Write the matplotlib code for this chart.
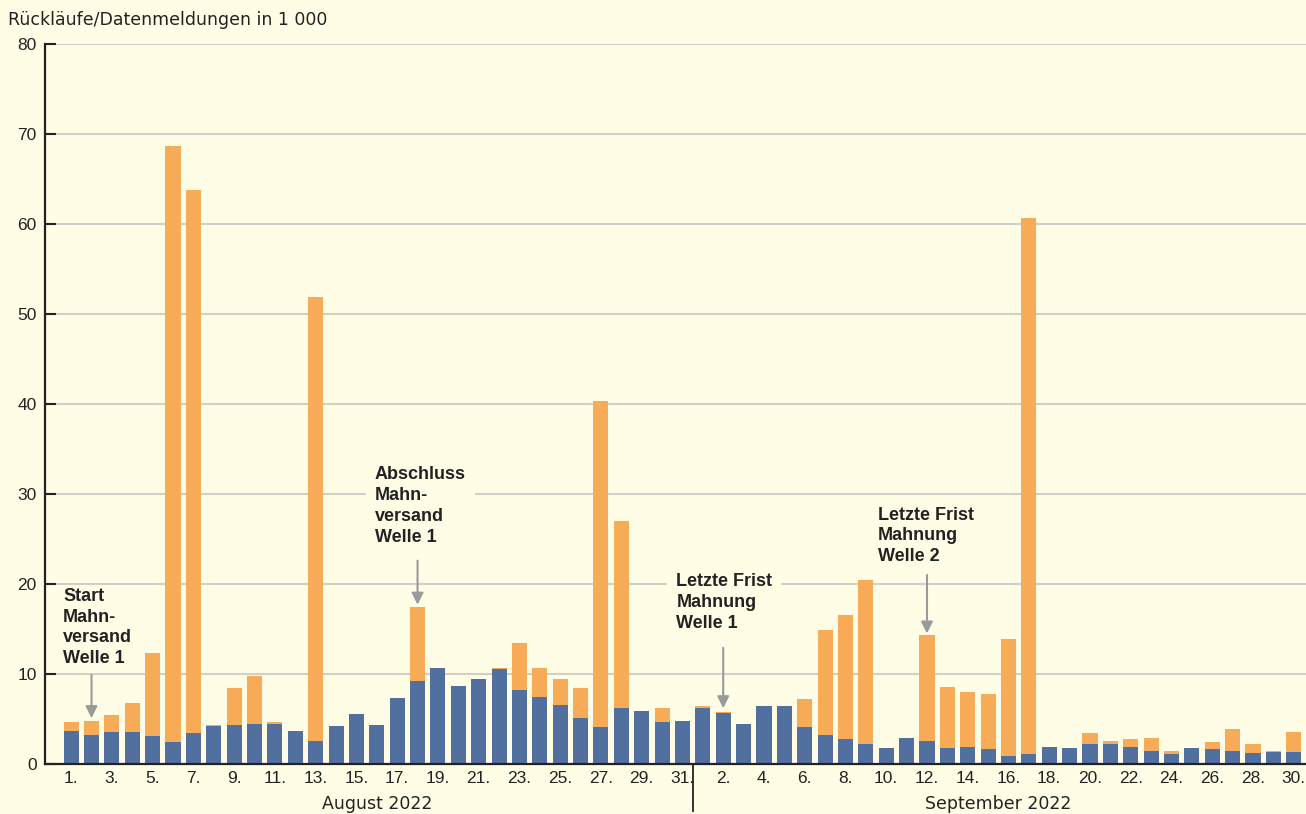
import numpy as np
import matplotlib.pyplot as plt

plt.rcParams['font.family'] = ['Liberation Sans', 'DejaVu Sans']

# days: August 1-31, September 1-30
aug_days = list(range(1, 32))
sep_days = list(range(1, 31))

# blue part (bottom) in 1 000
aug_blue = [3.7, 3.2, 3.6, 3.6, 3.1, 2.5, 3.5, 4.2, 4.3, 4.5, 4.5, 3.7, 2.6, 4.2, 5.6, 4.3,
            7.3, 9.2, 10.7, 8.7, 9.4, 10.6, 8.2, 7.4, 6.6, 5.1, 4.1, 6.2, 5.9, 4.7, 4.8]
sep_blue = [6.2, 5.7, 4.4, 6.5, 6.4, 4.1, 3.2, 2.8, 2.2, 1.8, 2.9, 2.6, 1.8, 1.9, 1.7,
            0.9, 1.1, 1.9, 1.8, 2.2, 2.2, 1.9, 1.4, 1.1, 1.8, 1.7, 1.4, 1.2, 1.3, 1.3]
# orange part (stacked on top) in 1 000
aug_orange = [1.0, 1.6, 1.9, 3.2, 9.2, 66.2, 60.3, 0.1, 4.2, 5.3, 0.2, 0.0, 49.3, 0.0, 0.0, 0.0,
              0.0, 8.2, 0.0, 0.0, 0.0, 0.1, 5.3, 3.3, 2.9, 3.3, 36.2, 20.8, 0.0, 1.5, 0.0]
sep_orange = [0.3, 0.1, 0.0, 0.0, 0.0, 3.1, 11.7, 13.8, 18.2, 0.0, 0.0, 11.7, 6.8, 6.1, 6.1,
              13.0, 59.6, 0.0, 0.0, 1.3, 0.4, 0.9, 1.5, 0.4, 0.0, 0.7, 2.5, 1.0, 0.1, 2.3]

blue = np.array(aug_blue + sep_blue)
orange = np.array(aug_orange + sep_orange)
x = np.arange(len(blue))

tick_pos = [i for i, d in enumerate(aug_days) if d % 2 == 1] + \
           [31 + i for i, d in enumerate(sep_days) if d % 2 == 0]
tick_lab = [f"{d}." for d in aug_days if d % 2 == 1] + [f"{d}." for d in sep_days if d % 2 == 0]

bg = '#fffde6'
c_blue = '#52709f'
c_orange = '#f9ac57'
c_text = '#222222'

fig = plt.figure(figsize=(13.06, 8.14), dpi=100, facecolor=bg)
ax = fig.add_axes([0.0345, 0.0614, 0.9655, 0.8846], facecolor=bg)

ax.bar(x, blue, 0.74, color=c_blue, zorder=2)
ax.bar(x, orange, 0.74, bottom=blue, color=c_orange, zorder=2)

ax.set_xlim(-1.28, 60.6)
ax.set_ylim(0, 80)
ax.set_yticks(range(0, 81, 10))
ax.yaxis.grid(True, color='#d2d0c6', lw=1.5, zorder=0)
ax.set_axisbelow(True)
ax.tick_params(axis='y', direction='in', length=8, width=1.5, color='#222222',
               labelsize=12.5, labelcolor=c_text, pad=6)
ax.set_xticks(tick_pos)
ax.set_xticklabels(tick_lab)
ax.tick_params(axis='x', length=0, labelsize=12.5, labelcolor=c_text, pad=5)

for s in ['top', 'right']:
    ax.spines[s].set_visible(False)
ax.spines['left'].set_linewidth(1.6)
ax.spines['bottom'].set_linewidth(1.6)
ax.spines['left'].set_color('#222222')
ax.spines['bottom'].set_color('#222222')

# month separator and labels
trans = ax.get_xaxis_transform()
ax.plot([30.5, 30.5], [0, -0.065], transform=trans, color='#222222', lw=1.3, clip_on=False)
ax.text(15, -0.055, 'August 2022', transform=trans, ha='center', va='center',
        fontsize=12.5, color=c_text, family='DejaVu Sans')
ax.text(45.5, -0.055, 'September 2022', transform=trans, ha='center', va='center',
        fontsize=12.5, color=c_text, family='DejaVu Sans')

fig.text(8 / 1306, 1 - 20 / 814, 'Rückläufe/Datenmeldungen in 1 000', ha='left', va='center',
         fontsize=12.5, color=c_text, family='DejaVu Sans')

# annotations
arrow = dict(arrowstyle='-|>,head_width=0.35,head_length=0.7', color='#9a9a9a', lw=1.5,
             shrinkA=0, shrinkB=0)
notes = [
    ("Start\nMahn-\nversand\nWelle 1", -0.39, 19.6, False, 1, 9.9, 5.1),
    ("Abschluss\nMahn-\nversand\nWelle 1", 14.9, 33.1, True, 17, 22.6, 17.7),
    ("Letzte Frist\nMahnung\nWelle 1", 29.7, 21.2, True, 32, 12.9, 6.2),
    ("Letzte Frist\nMahnung\nWelle 2", 39.6, 28.6, False, 42, 21.0, 14.5),
]
for txt, tx, ty, boxed, ax_x, y0, y1 in notes:
    kw = dict(boxstyle='square,pad=0.5', fc=bg, ec='none') if boxed else None
    ax.text(tx, ty, txt, ha='left', va='top', fontsize=13, fontweight='bold',
            color=c_text, linespacing=1.3, bbox=kw, zorder=3)
    ax.annotate('', xy=(ax_x, y1), xytext=(ax_x, y0), arrowprops=arrow, zorder=4)

fig.savefig('out.png', dpi=100, facecolor=bg)
